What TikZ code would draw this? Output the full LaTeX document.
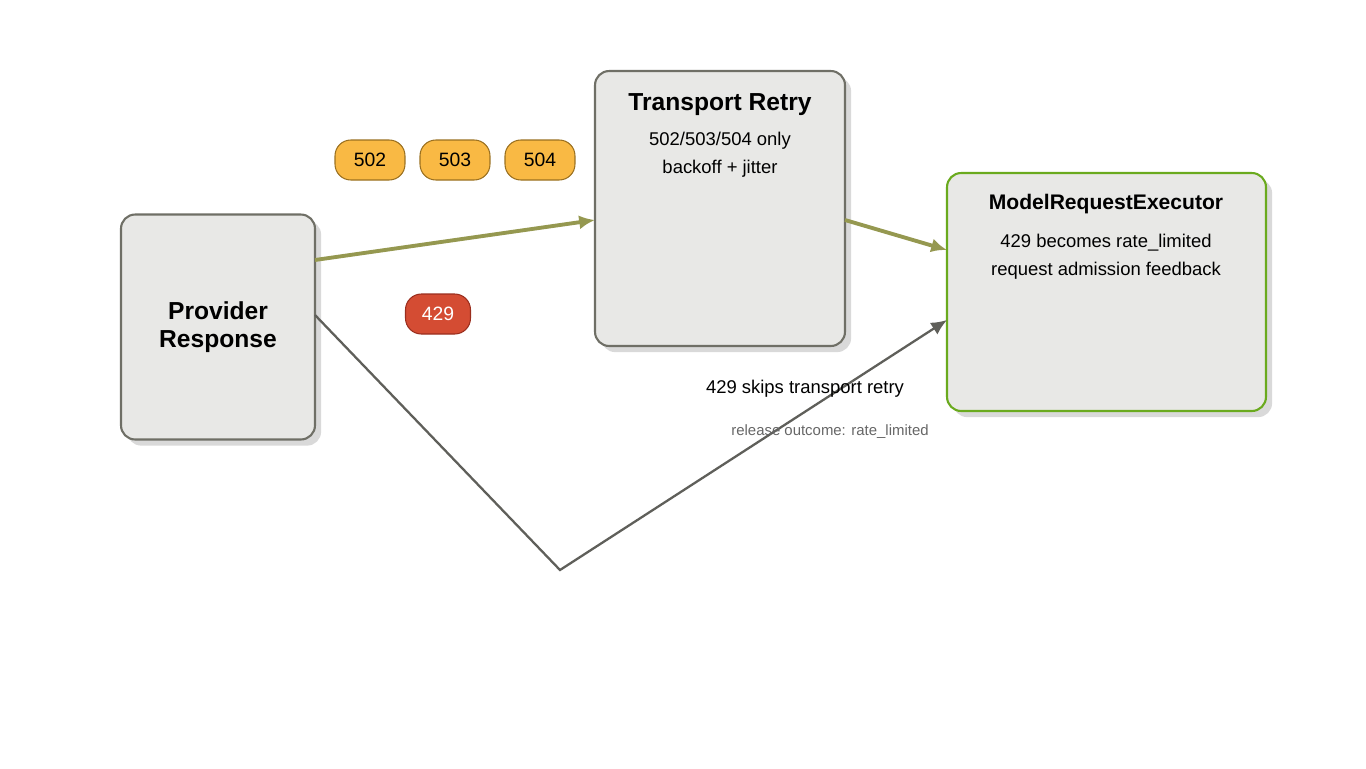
\documentclass[tikz,border=0pt]{standalone}
\usepackage{fontspec}
\setmainfont{Liberation Sans}
\usetikzlibrary{positioning,shadows,arrows.meta}
\definecolor{boxfill}{HTML}{E8E8E6}
\definecolor{boxline}{HTML}{6F6F66}
\definecolor{okline}{HTML}{6AAA1E}
\definecolor{olive}{HTML}{959850}
\definecolor{grayarrow}{HTML}{5F5F5A}
\definecolor{pillfill}{HTML}{F9B944}
\definecolor{pillline}{HTML}{9A7020}
\definecolor{redfill}{HTML}{D44C33}
\definecolor{redline}{HTML}{9A2E1E}
\tikzset{
  stage/.style={draw=boxline, line width=1.2pt, fill=boxfill, rounded corners=8pt,
    drop shadow={shadow xshift=3.5pt, shadow yshift=-3.5pt, fill=black!15, opacity=1}},
  code/.style={draw=pillline, fill=pillfill, rounded corners=9pt, line width=0.6pt,
    minimum width=1.4cm, minimum height=0.8cm, font=\fontsize{11}{13}\selectfont},
  flow/.style={olive, line width=2.2pt, -{Latex[length=9pt,width=8pt]}},
  skip/.style={grayarrow, line width=1.3pt},
}
\begin{document}
\begin{tikzpicture}[x=0.02cm,y=-0.02cm]
\useasboundingbox (0,0) rectangle (1366,768);
% stages
\node[stage, minimum width=3.88cm, minimum height=4.5cm] (provider) at (218,327) {};
\node[font=\bfseries\fontsize{14}{16}\selectfont, align=center] (providerlabel) at (provider) {Provider\\Response};
\node[stage, minimum width=5cm, minimum height=5.5cm] (retry) at (720,208.5) {};
\node[font=\bfseries\fontsize{14}{16}\selectfont] (retrytitle) at (720,105) {Transport Retry};
\node[font=\fontsize{10.5}{16}\selectfont, align=center] (retrytext) at (720,155) {502/503/504 only\\backoff + jitter};
\node[stage, draw=okline, minimum width=6.38cm, minimum height=4.76cm] (executor) at (1106.5,292) {};
\node[font=\bfseries\fontsize{12}{14}\selectfont] (exectitle) at (1106,204) {ModelRequestExecutor};
\node[font=\fontsize{10.5}{16}\selectfont, align=center] (exectext) at (1106,257) {429 becomes rate\_limited\\request admission feedback};
% status codes
\node[code] (c502) at (370,160) {502};
\node[code] (c503) at (455,160) {503};
\node[code] (c504) at (540,160) {504};
\node[code, draw=redline, fill=redfill, text=white, minimum width=1.3cm] (c429) at (438,314) {429};
% connectors
\coordinate (p1) at (315,260);
\coordinate (r1) at (595,220);
\coordinate (r2) at (845,220);
\coordinate (e1) at (947,250);
\coordinate (p2) at (315,315);
\coordinate (bend) at (560,570);
\coordinate (e2) at (947,320);
\draw[flow] (p1) -- (r1);
\draw[flow] (r2) -- (e1);
\draw[skip, -{Latex[length=9pt,width=8pt]}] (p2) -- (bend) -- (e2);
\node[font=\fontsize{10.5}{12}\selectfont] (skiplabel) at (805,389) {429 skips transport retry};
\node[font=\fontsize{8.5}{10}\selectfont, text=black!60] (releaselabel) at (830,432) {release outcome: rate\_limited};
\end{tikzpicture}
\end{document}
